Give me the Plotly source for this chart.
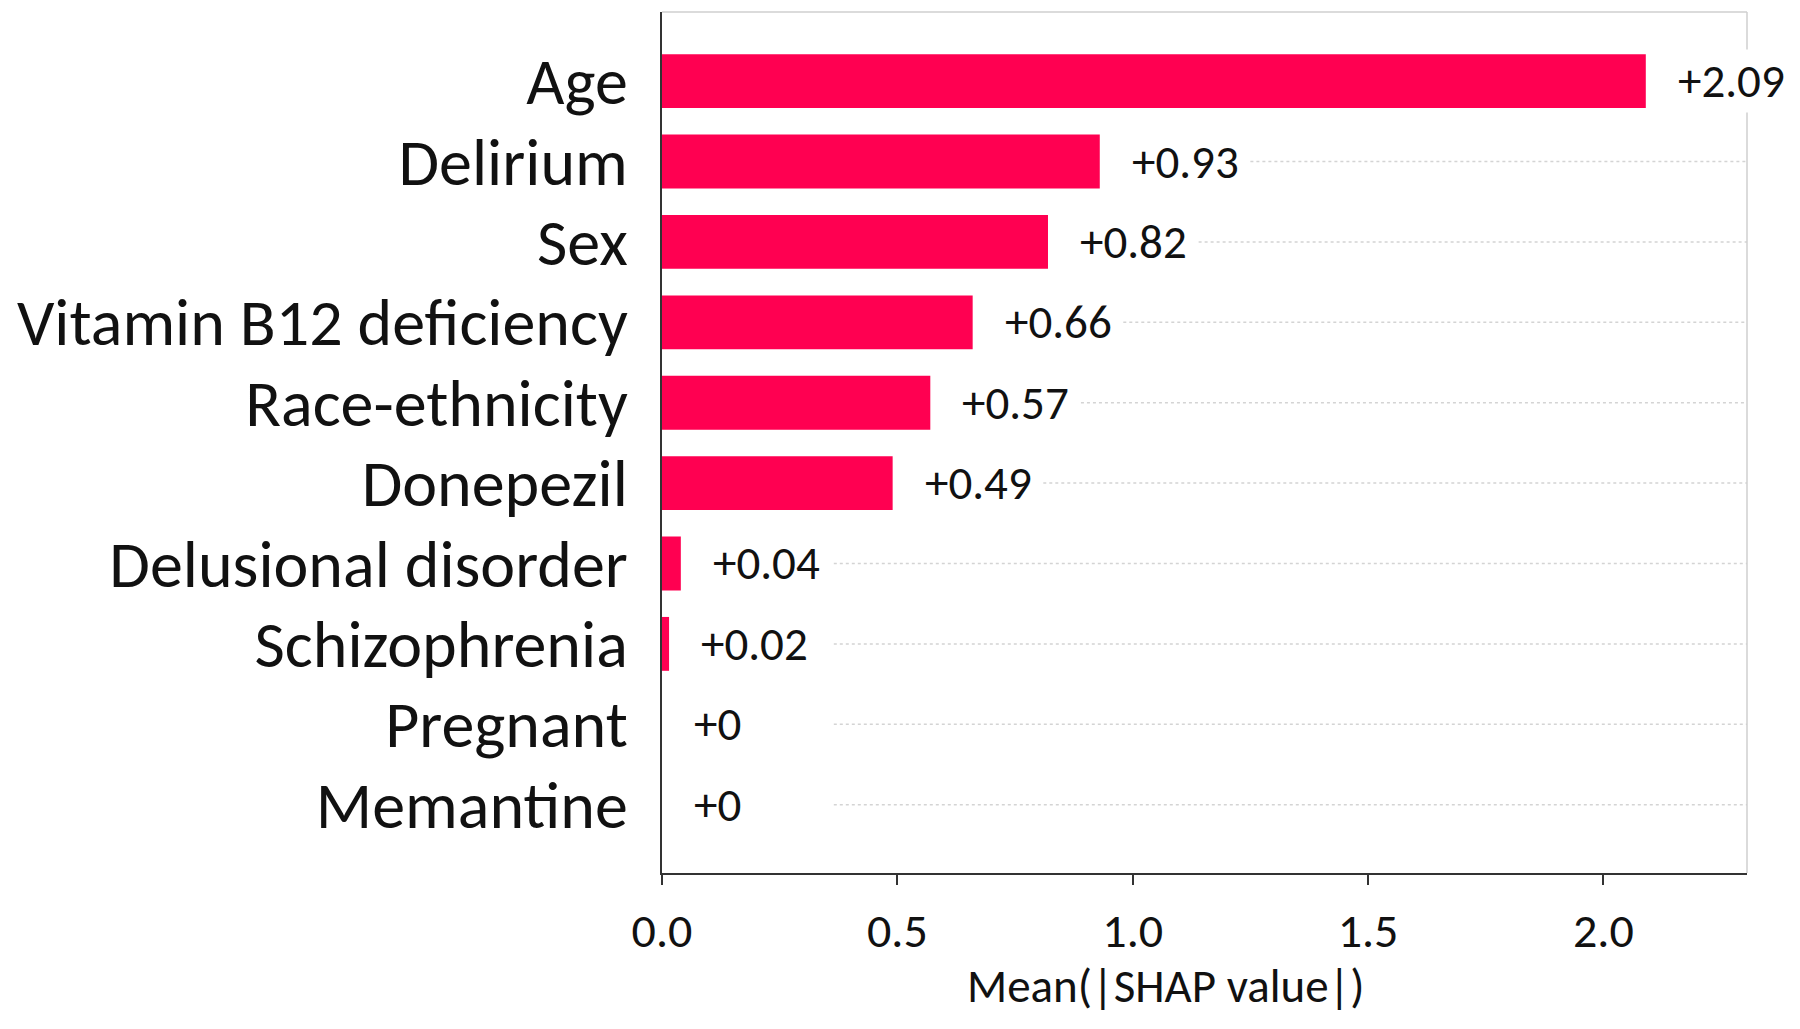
import plotly.graph_objects as go

features = ["Age", "Delirium", "Sex", "Vitamin B12 deficiency", "Race-ethnicity",
            "Donepezil", "Delusional disorder", "Schizophrenia", "Pregnant", "Memantine"]
mean_abs_shap = [2.09, 0.93, 0.82, 0.66, 0.57, 0.49, 0.04, 0.015, 0.0, 0.0]
value_labels = ["+2.09", "+0.93", "+0.82", "+0.66", "+0.57", "+0.49", "+0.04", "+0.02", "+0", "+0"]
x_ticks = [0.0, 0.5, 1.0, 1.5, 2.0]
x_tick_labels = ["0.0", "0.5", "1.0", "1.5", "2.0"]
x_title = "Mean(|SHAP value|)"

FONT = "Carlito, Calibri, Lato, sans-serif"
BAR_COLOR = "#ff0051"
X_MAX = 2.305

fig = go.Figure()
fig.add_trace(go.Bar(
    x=mean_abs_shap, y=features, orientation="h",
    marker=dict(color=BAR_COLOR, line=dict(width=0)),
    width=0.67, hoverinfo="skip", showlegend=False,
))

shapes = []
# dotted row guides (SHAP style), starting to the right of each value label
for f, v in zip(features, mean_abs_shap):
    x0 = max(v + 0.32, 0.365)
    if x0 < X_MAX:
        shapes.append(dict(type="line", xref="x", yref="y", x0=x0, x1=X_MAX, y0=f, y1=f,
                           line=dict(color="#d4d4d4", width=1.5, dash="dot"), layer="below"))
# light top and right frame
shapes.append(dict(type="line", xref="paper", yref="paper", x0=0, x1=1, y0=1, y1=1,
                   line=dict(color="#cfcfcf", width=1.5)))
shapes.append(dict(type="line", xref="paper", yref="paper", x0=1, x1=1, y0=0, y1=1,
                   line=dict(color="#cfcfcf", width=1.5)))

annotations = []
for f, v, t in zip(features, mean_abs_shap, value_labels):
    annotations.append(dict(x=v, y=f, xref="x", yref="y", text=t, showarrow=False,
                            xanchor="left", yanchor="middle", xshift=29,
                            bgcolor="white", borderpad=2,
                            font=dict(family=FONT, size=47, color="#111111")))
# x-axis title (slightly left of the axis centre, as in the original)
annotations.append(dict(x=0.4645, y=0, xref="paper", yref="paper", text=x_title,
                        showarrow=False, xanchor="center", yanchor="middle", yshift=-113,
                        font=dict(family=FONT, size=47, color="#111111")))

fig.update_layout(
    width=1800, height=1029,
    margin=dict(l=654, r=61, t=4, b=164),
    paper_bgcolor="white", plot_bgcolor="white",
    font=dict(family=FONT, color="#111111"),
    shapes=shapes, annotations=annotations,
    bargap=0.33,
)
fig.update_xaxes(
    range=[0, X_MAX], tickvals=x_ticks, ticktext=x_tick_labels,
    showgrid=False, zeroline=False,
    showline=True, linecolor="#333333", linewidth=2,
    ticks="outside", ticklen=10, tickwidth=2, tickcolor="#333333",
    tickfont=dict(family=FONT, size=48, color="#111111"),
    ticklabelstandoff=4,
)
fig.update_yaxes(
    categoryorder="array", categoryarray=features,
    range=[9.85, -0.86],
    showgrid=False, zeroline=False,
    showline=True, linecolor="#333333", linewidth=2,
    ticks="", tickfont=dict(family=FONT, size=66, color="#111111"),
    ticklabelstandoff=19,
)

fig.write_html("out.html")
